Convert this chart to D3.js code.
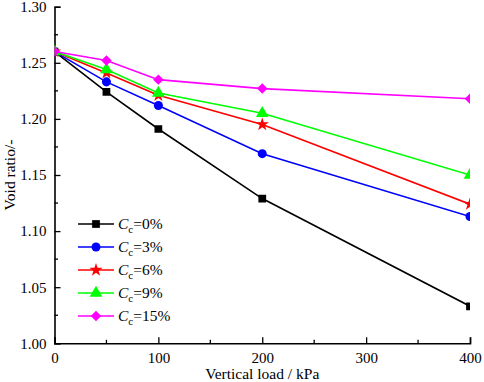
<!DOCTYPE html>
<html>
<head>
<meta charset="utf-8">
<script src="https://cdn.jsdelivr.net/npm/d3@7"></script>
<style>
  body { margin: 0; background: #fff; }
  svg { display: block; font-family: "Liberation Serif", "Times New Roman", serif; }
</style>
</head>
<body>
<div id="chart"></div>
<script>
// loads (kPa) and void ratio for each clay content
var loads = [0, 50, 100, 200, 400];
var cc0 = [1.260, 1.224, 1.191, 1.129, 1.033];
var cc3 = [1.260, 1.233, 1.212, 1.169, 1.113];
var cc6 = [1.260, 1.241, 1.221, 1.195, 1.124];
var cc9 = [1.260, 1.244, 1.223, 1.205, 1.150];
var cc15 = [1.260, 1.252, 1.235, 1.227, 1.218];
var seriesNames = ["0%", "3%", "6%", "9%", "15%"];
var xTicks = [0, 100, 200, 300, 400];
var yTicks = [1.00, 1.05, 1.10, 1.15, 1.20, 1.25, 1.30];

var colors = ["#000000", "#0000ff", "#ff0000", "#00ff00", "#ff00ff"];
var shapes = [d3.symbolSquare, d3.symbolCircle, d3.symbolStar, d3.symbolTriangle, d3.symbolSquare];
var sizes = [60, 64, 55, 70, 55];
var rotate = [0, 0, 0, 0, 45];

var allSeries = [cc0, cc3, cc6, cc9, cc15];

var width = 484, height = 382;
var margin = { top: 6.7, right: 14, bottom: 38.7, left: 54.5 };

var svg = d3.select('#chart').append('svg')
    .attr('width', width)
    .attr('height', height);

var x = d3.scaleLinear().domain([0, 400]).range([margin.left, width - margin.right]);
var y = d3.scaleLinear().domain([1.00, 1.30]).range([height - margin.bottom, margin.top]);

svg.append('clipPath').attr('id', 'plotclip')
    .append('rect')
    .attr('x', x(0)).attr('y', y(1.30))
    .attr('width', x(400) - x(0)).attr('height', y(1.00) - y(1.30));

// axes with inward ticks
var xAxisG = svg.append('g').attr('transform', 'translate(0,' + y(1.00) + ')');
xAxisG.call(d3.axisBottom(x).tickValues(xTicks).tickSize(-6).tickPadding(9).tickFormat(d3.format('d')));
xAxisG.append('g').selectAll('line').data([50, 150, 250, 350]).enter().append('line')
    .attr('x1', function(d) { return x(d) }).attr('x2', function(d) { return x(d) })
    .attr('y1', 0).attr('y2', -3.5).attr('stroke', '#000').attr('stroke-width', 1.3);

var yAxisG = svg.append('g').attr('transform', 'translate(' + x(0) + ',0)');
yAxisG.call(d3.axisLeft(y).tickValues(yTicks).tickSize(-6).tickPadding(8).tickFormat(d3.format('.2f')));
yAxisG.append('g').selectAll('line').data([1.025, 1.075, 1.125, 1.175, 1.225, 1.275]).enter().append('line')
    .attr('y1', function(d) { return y(d) }).attr('y2', function(d) { return y(d) })
    .attr('x1', 0).attr('x2', 3.5).attr('stroke', '#000').attr('stroke-width', 1.3);

svg.selectAll('.domain').attr('stroke', '#000').attr('stroke-width', 1.6);
svg.selectAll('.tick line').attr('stroke', '#000').attr('stroke-width', 1.3);
svg.selectAll('g').attr('font-family', null).attr('font-size', null);
svg.selectAll('.tick text').attr('font-size', 15).attr('fill', '#000');

// axis titles
svg.append('text')
    .attr('x', (x(0) + x(400)) / 2).attr('y', 379)
    .attr('text-anchor', 'middle').attr('font-size', 15.5)
    .text('Vertical load / kPa');

svg.append('text')
    .attr('transform', 'translate(15,' + ((y(1.0) + y(1.3)) / 2) + ') rotate(-90)')
    .attr('text-anchor', 'middle').attr('font-size', 15.5)
    .text('Void ratio/-');

// series
var plot = svg.append('g').attr('clip-path', 'url(#plotclip)');
var line = d3.line()
    .x(function(d, i) { return x(loads[i]) })
    .y(function(d) { return y(d) });

allSeries.forEach(function(vals, s) {
    plot.append('path')
        .datum(vals)
        .attr('d', line)
        .attr('fill', 'none')
        .attr('stroke', colors[s])
        .attr('stroke-width', 1.6);
    plot.selectAll('.m' + s)
        .data(vals)
        .enter()
        .append('path')
        .attr('class', 'm' + s)
        .attr('d', d3.symbol().type(shapes[s]).size(sizes[s]))
        .attr('transform', function(d, i) { return 'translate(' + x(loads[i]) + ',' + y(d) + ') rotate(' + rotate[s] + ')' })
        .attr('fill', colors[s]);
});

// legend
var legend = svg.append('g');
seriesNames.forEach(function(name, s) {
    var ly = 224 + s * 23;
    legend.append('line')
        .attr('x1', 78).attr('x2', 114).attr('y1', ly).attr('y2', ly)
        .attr('stroke', colors[s]).attr('stroke-width', 1.6);
    legend.append('path')
        .attr('d', d3.symbol().type(shapes[s]).size(sizes[s]))
        .attr('transform', 'translate(96,' + ly + ') rotate(' + rotate[s] + ')')
        .attr('fill', colors[s]);
    var t = legend.append('text')
        .attr('x', 118).attr('y', ly + 5)
        .attr('font-size', 15.5);
    t.append('tspan').attr('font-style', 'italic').text('C');
    t.append('tspan').attr('font-size', 11).attr('dy', 4).text('c');
    t.append('tspan').attr('dy', -4).text('=' + name);
});
</script>
</body>
</html>
